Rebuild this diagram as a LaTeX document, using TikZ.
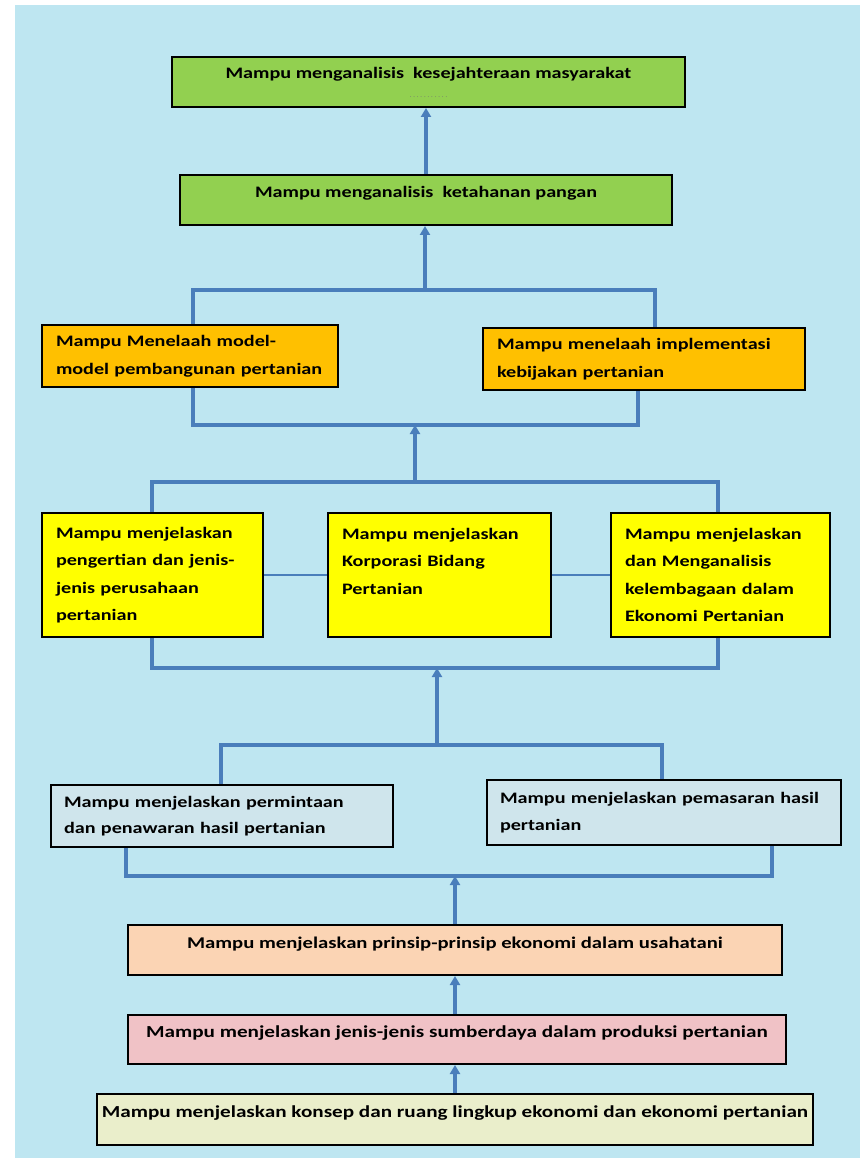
\documentclass[tikz,border=0pt]{standalone}
\usepackage{fontspec}
\setmainfont{Carlito}[FakeStretch=1.26]
\usetikzlibrary{arrows.meta}
\definecolor{bgc}{HTML}{BEE6F1}
\definecolor{linec}{HTML}{4A7EBB}
\definecolor{greenc}{HTML}{92D050}
\definecolor{orangec}{HTML}{FFC000}
\definecolor{yellowc}{HTML}{FFFF00}
\definecolor{bluec}{HTML}{CFE5EC}
\definecolor{salmonc}{HTML}{FBD4B4}
\definecolor{pinkc}{HTML}{F0C2C6}
\definecolor{creamc}{HTML}{EAEECB}
\newcommand{\myln}[1]{\mbox{#1}}
\begin{document}
\begin{tikzpicture}[x=1pt,y=-1pt,
  box/.style={draw=black,line width=2pt,inner sep=0pt,
    font=\bfseries\fontsize{16}{27.5}\selectfont},
  onebox/.style={box,text height=8pt,text depth=12pt},
  widetext/.style={font=\bfseries\fontsize{16.8}{27.5}\selectfont},
  multibox/.style={box,align=left,inner xsep=14pt},
  conn/.style={draw=linec,line width=3.2pt,line join=miter},
  arr/.style={conn,-{Triangle[length=9pt,width=10pt]}},
  thinconn/.style={draw=linec,line width=1.2pt}]
% page and background
\fill[white] (0,0) rectangle (860,1158);
\useasboundingbox (0,0) rectangle (860,1158);
\fill[bgc] (15,5) rectangle (860,1158);

% top level boxes
\node[box,fill=greenc,minimum width=513pt,minimum height=50pt,align=center] (g1) at (428.5,82)
  {Mampu menganalisis\ \ kesejahteraan masyarakat\\[-8.5pt]{\fontsize{5}{5}\selectfont\color{black!55}. . . . . . . . . . .}};
\node[onebox,fill=greenc,minimum width=492pt,minimum height=50pt] (g2) at (426,200)
  {Mampu menganalisis\ \ ketahanan pangan};

% orange row
\node[multibox,fill=orangec,text width=268pt,minimum height=62pt] (o1) at (190,356)
  {\myln{Mampu Menelaah model-}\\\myln{model pembangunan pertanian}};
\node[multibox,fill=orangec,text width=294pt,minimum height=62pt] (o2) at (644,359)
  {\myln{Mampu menelaah implementasi}\\\myln{kebijakan pertanian}};

% yellow row
\node[multibox,fill=yellowc,text width=193pt,minimum height=124pt] (y1) at (152.5,575)
  {\myln{Mampu menjelaskan}\\\myln{pengertian dan jenis-}\\\myln{jenis perusahaan}\\\myln{pertanian}};
\node[multibox,fill=yellowc,text width=195pt,minimum height=124pt] (y2) at (439.5,575)
  {\myln{Mampu menjelaskan}\\\myln{Korporasi Bidang}\\\myln{Pertanian}\\\mbox{}};
\node[multibox,fill=yellowc,text width=191pt,minimum height=124pt] (y3) at (720.5,575)
  {\myln{Mampu menjelaskan}\\\myln{dan Menganalisis}\\\myln{kelembagaan dalam}\\\myln{Ekonomi Pertanian}};

% blue row
\node[multibox,fill=bluec,inner xsep=13pt,text width=316pt,minimum height=62pt,
  font=\bfseries\fontsize{16}{26.5}\selectfont] (b1) at (222,816)
  {\myln{Mampu menjelaskan permintaan}\\\myln{dan penawaran hasil pertanian}};
\node[multibox,fill=bluec,inner xsep=13pt,text width=328pt,minimum height=65pt,
  font=\bfseries\fontsize{16}{26.5}\selectfont] (b2) at (664,812.5)
  {\myln{Mampu menjelaskan pemasaran hasil}\\\myln{pertanian}};

% lower boxes
\node[onebox,fill=salmonc,minimum width=654pt,minimum height=50pt,
  font=\bfseries\fontsize{16.4}{27.5}\selectfont] (s) at (455,950)
  {Mampu menjelaskan prinsip-prinsip ekonomi dalam usahatani};
\node[onebox,widetext,fill=pinkc,minimum width=658pt,minimum height=49pt] (p) at (457,1039.5)
  {Mampu menjelaskan jenis-jenis sumberdaya dalam produksi pertanian};
\node[onebox,widetext,fill=creamc,minimum width=716pt,minimum height=51pt] (bot) at (455,1119.5)
  {Mampu menjelaskan konsep dan ruang lingkup ekonomi dan ekonomi pertanian};

% bracket coordinates
\coordinate (oTL) at (193,290);
\coordinate (oTR) at (655,290);
\coordinate (oTM) at (425,290);
\coordinate (oBL) at (193,425);
\coordinate (oBR) at (638,425);
\coordinate (oBM) at (415,425);
\coordinate (yTL) at (152,482);
\coordinate (yTR) at (718,482);
\coordinate (yTM) at (415,482);
\coordinate (yBL) at (152,668);
\coordinate (yBR) at (718,668);
\coordinate (yBM) at (437,668);
\coordinate (bTL) at (221,745);
\coordinate (bTR) at (662,745);
\coordinate (bTM) at (437,745);
\coordinate (bBL) at (126,876);
\coordinate (bBR) at (772,876);
\coordinate (bBM) at (455,876);

% connectors
\draw[arr] (g2.north) -- (g2.north |- g1.south);
\draw[arr] (oTM) -- (oTM |- g2.south);
\draw[conn] (oTL |- o1.north) -- (oTL) -- (oTR) -- (oTR |- o2.north);
\draw[conn] (oBL |- o1.south) -- (oBL) -- (oBR) -- (oBR |- o2.south);
\draw[arr] (yTM) -- (oBM);
\draw[conn] (yTL |- y1.north) -- (yTL) -- (yTR) -- (yTR |- y3.north);
\draw[thinconn] (y1.east) -- (y2.west);
\draw[thinconn] (y2.east) -- (y3.west);
\draw[conn] (yBL |- y1.south) -- (yBL) -- (yBR) -- (yBR |- y3.south);
\draw[arr] (bTM) -- (yBM);
\draw[conn] (bTL |- b1.north) -- (bTL) -- (bTR) -- (bTR |- b2.north);
\draw[conn] (bBL |- b1.south) -- (bBL) -- (bBR) -- (bBR |- b2.south);
\draw[arr] (s.north) -- (bBM);
\draw[arr] (p.north -| s.south) -- (s.south);
\draw[arr] (bot.north) -- (bot.north |- p.south);
\end{tikzpicture}
\end{document}
